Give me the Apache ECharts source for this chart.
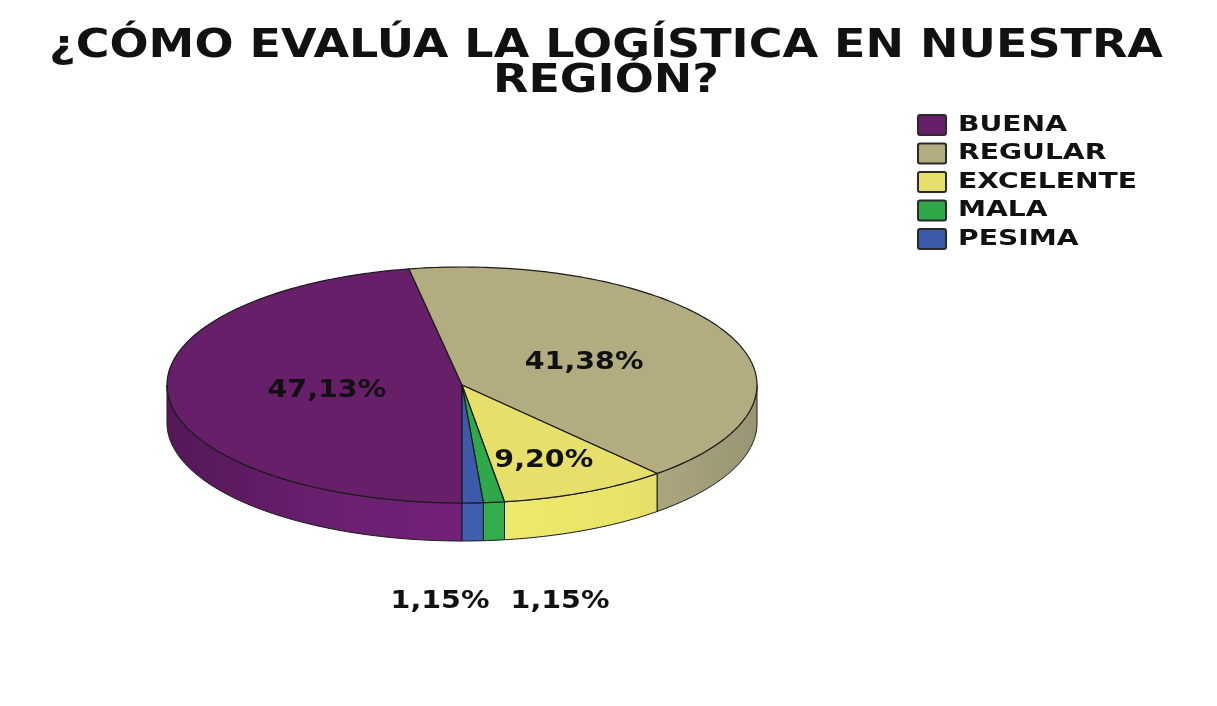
<!DOCTYPE html>
<html>
<head>
<meta charset="utf-8">
<script src="https://cdn.jsdelivr.net/npm/echarts@6/dist/echarts.min.js"></script>
<style>
  html, body { margin: 0; padding: 0; background: #fff; }
  #chart { width: 1217px; height: 706px; }
</style>
</head>
<body>
<div id="chart"></div>
<script>
const titleLines = ['¿CÓMO EVALÚA LA LOGÍSTICA EN NUESTRA', 'REGIÓN?']
const categories = ['BUENA', 'REGULAR', 'EXCELENTE', 'MALA', 'PESIMA']
const percents = [47.13, 41.38, 9.20, 1.15, 1.15]
const topColors = ['#661f68', '#b2ac80', '#e6e06a', '#2fa84a', '#3d5aaa']
const sideColors = ['#74227a', '#b4ae86', '#eeea6c', '#34ae4c', '#4260b0']

main()

function main() {
  const chart = echarts.init(document.getElementById('chart'))

  // pie geometry (tilted ellipse)
  const cx = 462, cy = 385, rx = 295, ry = 118, depth = 38
  const font = 'DejaVu Sans'

  // angles in degrees, screen coords, 90 = bottom, clockwise
  const total = percents.reduce((a, b) => a + b, 0)
  let acc = 90
  const slices = percents.map((v) => {
    const s = acc
    acc += v / total * 360
    return [s, acc]
  })

  function pt(deg, dy) {
    const r = deg * Math.PI / 180
    return [cx + rx * Math.cos(r), cy + ry * Math.sin(r) + (dy || 0)]
  }

  function arcPoints(a, b, dy) {
    const pts = []
    const n = Math.max(2, Math.ceil(Math.abs(b - a)))
    for (let i = 0; i <= n; i++) pts.push(pt(a + (b - a) * i / n, dy))
    return pts
  }

  // front half of slice edges (0..180 and 360..540)
  function frontParts(s, e) {
    const parts = []
    ;[[0, 180], [360, 540]].forEach(([lo, hi]) => {
      const a = Math.max(s, lo), b = Math.min(e, hi)
      if (b > a) parts.push([a, b])
    })
    return parts
  }

  function shade(color, k) {
    const c = echarts.color.parse(color)
    return 'rgb(' + [0, 1, 2].map((j) => Math.round(Math.min(255, c[j] * k))).join(',') + ')'
  }

  function sideGradient(color) {
    return new echarts.graphic.LinearGradient(cx - rx, 0, cx + rx, 0, [
      { offset: 0, color: shade(color, 0.72) },
      { offset: 0.25, color: shade(color, 0.9) },
      { offset: 0.55, color: shade(color, 1.0) },
      { offset: 0.8, color: shade(color, 0.97) },
      { offset: 1, color: shade(color, 0.85) }
    ], true)
  }

  function renderSide(params, api) {
    const i = params.dataIndex
    const [s, e] = slices[i]
    const children = frontParts(s, e).map(([a, b]) => {
      const top = arcPoints(a, b, 0)
      const bottom = arcPoints(b, a, depth)
      return {
        type: 'polygon',
        shape: { points: top.concat(bottom) },
        style: { fill: sideGradient(sideColors[i]), stroke: '#1a1a1a', lineWidth: 1 }
      }
    })
    return { type: 'group', children: children }
  }

  function renderTop(params, api) {
    const i = params.dataIndex
    const [s, e] = slices[i]
    const pts = [[cx, cy]].concat(arcPoints(s, e, 0))
    return {
      type: 'polygon',
      shape: { points: pts },
      style: { fill: topColors[i], stroke: '#1a1a1a', lineWidth: 1.2 }
    }
  }

  function labelText(v) {
    return v.toFixed(2).replace('.', ',') + '%'
  }

  function renderLabel(params, api) {
    const i = params.dataIndex
    const v = api.value(0)
    const [s, e] = slices[i]
    let x, y
    if (v < 5) {
      // tiny slices: labels set below the pie
      x = cx + (i === 4 ? -22 : 98)
      y = cy + 216
    } else {
      const f = v > 20 ? 0.46 : 0.66
      const m = (s + e) / 2 * Math.PI / 180
      x = cx + rx * f * Math.cos(m)
      y = cy + ry * f * Math.sin(m) + (v > 20 ? 1 : 5)
    }
    return {
      type: 'text',
      x: x, y: y,
      scaleX: 1.14,
      style: {
        text: labelText(v),
        x: 0, y: 0,
        align: 'center', verticalAlign: 'middle',
        font: 'bold 25px "' + font + '"',
        fill: '#111'
      }
    }
  }

  const data = percents.map((v, i) => ({ name: categories[i], value: [v] }))

  const legendItems = []
  categories.forEach((name, i) => {
    const y = 125 + i * 28.5
    legendItems.push({
      type: 'rect',
      shape: { x: 918, y: y - 10, width: 28, height: 20, r: 2 },
      style: { fill: topColors[i], stroke: '#2a2a2a', lineWidth: 2 }
    })
    legendItems.push({
      type: 'text',
      x: 958, y: y,
      scaleX: 1.28,
      style: {
        text: name, x: 0, y: 0,
        align: 'left', verticalAlign: 'middle',
        font: 'bold 22px "' + font + '"',
        fill: '#111'
      }
    })
  })

  const option = {
    backgroundColor: '#fff',
    animation: false,
    graphic: [
      {
        type: 'text', x: 606, y: 47, scaleX: 1.18,
        style: { text: titleLines[0], x: 0, y: 0, align: 'center', verticalAlign: 'middle',
          font: 'bold 39px "' + font + '"', fill: '#111' }
      },
      {
        type: 'text', x: 606, y: 82, scaleX: 1.18,
        style: { text: titleLines[1], x: 0, y: 0, align: 'center', verticalAlign: 'middle',
          font: 'bold 39px "' + font + '"', fill: '#111' }
      }
    ].concat(legendItems),
    series: [
      { type: 'custom', name: 'side', coordinateSystem: 'none', z: 1, silent: true,
        renderItem: renderSide, data: data },
      { type: 'custom', name: 'top', coordinateSystem: 'none', z: 2, silent: true,
        renderItem: renderTop, data: data },
      { type: 'custom', name: 'labels', coordinateSystem: 'none', z: 3, silent: true,
        renderItem: renderLabel, data: data }
    ]
  }
  chart.setOption(option)
}
</script>
</body>
</html>
